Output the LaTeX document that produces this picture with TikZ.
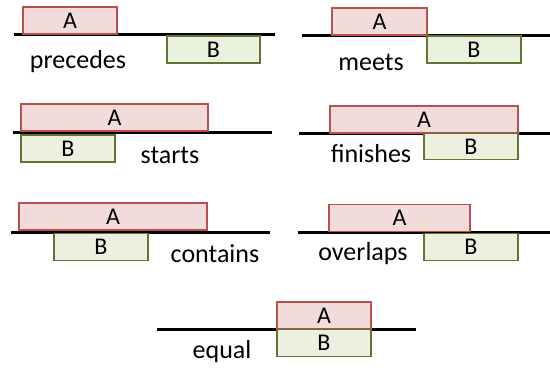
\documentclass[tikz,border=0pt]{standalone}
\usepackage{fontspec}
\setmainfont{Carlito}
\definecolor{afill}{HTML}{F2DCDB}
\definecolor{aline}{HTML}{B9504D}
\definecolor{bfill}{HTML}{EBF1DE}
\definecolor{bline}{HTML}{5F7530}
\tikzset{
  tline/.style={line width=3pt, black},
  intervalA/.style={draw=aline, fill=afill, line width=1.3pt, minimum height=27pt, inner sep=0pt, font=\fontsize{24}{24}\selectfont},
  intervalB/.style={draw=bline, fill=bfill, line width=1.3pt, minimum height=27pt, inner sep=0pt, font=\fontsize{24}{24}\selectfont},
  rel/.style={font=\fontsize{26}{26}\selectfont, inner sep=0pt}
}
\begin{document}
\begin{tikzpicture}[x=1pt,y=-1pt]
\useasboundingbox (0,0) rectangle (550,368);
% precedes
\draw[tline] (14,34.5) -- (275,34.5);
\node[intervalA, minimum width=94pt] (a1) at (70,20.5) {A};
\node[intervalB, minimum width=93pt] (b1) at (213.5,49.5) {B};
\node[rel] (l1) at (78,62) {precedes};
% meets
\draw[tline] (302,35) -- (550,35);
\node[intervalA, minimum width=95pt] (a2) at (379.5,21.5) {A};
\node[intervalB, minimum width=94pt] (b2) at (474,49.5) {B};
\node[rel] (l2) at (371,62) {meets};
% starts
\draw[tline] (13,132.5) -- (272,132.5);
\node[intervalA, minimum width=187pt] (a3) at (114.5,117.5) {A};
\node[intervalB, minimum width=94pt] (b3) at (68,148.5) {B};
\node[rel] (l3) at (170,155) {starts};
% finishes
\draw[tline] (299,133) -- (550,133);
\node[intervalA, minimum width=188pt] (a4) at (424,119.5) {A};
\node[intervalB, minimum width=94pt, minimum height=26pt] (b4) at (471,146.5) {B};
\node[rel] (l4) at (371,154) {finishes};
% contains
\draw[tline] (11,232) -- (270,232);
\node[intervalA, minimum width=188pt] (a5) at (113,216.5) {A};
\node[intervalB, minimum width=94pt] (b5) at (101,247) {B};
\node[rel] (l5) at (215,254) {contains};
% overlaps
\draw[tline] (298,232) -- (550,232);
\node[intervalA, minimum width=141pt] (a6) at (399.5,218) {A};
\node[intervalB, minimum width=94pt] (b6) at (471,247) {B};
\node[rel] (l6) at (363,254) {overlaps};
% equal
\draw[tline] (157,329) -- (416,329);
\node[intervalA, minimum width=94pt] (a7) at (324,315.5) {A};
\node[intervalB, minimum width=94pt] (b7) at (324,343) {B};
\node[rel] (l7) at (222,352) {equal};
\end{tikzpicture}
\end{document}
